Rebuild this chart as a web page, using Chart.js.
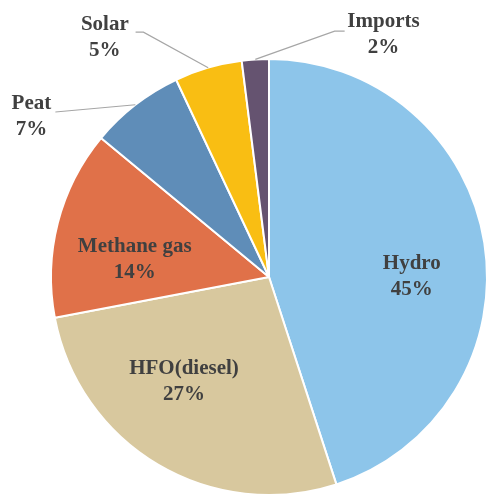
<!DOCTYPE html>
<html>
<head>
<meta charset="utf-8">
<script src="https://cdn.jsdelivr.net/npm/chart.js@4/dist/chart.umd.min.js"></script>
<style>
  html, body { margin: 0; padding: 0; background: #ffffff; overflow: hidden; width: 487px; height: 494px; }
  #wrap { position: absolute; left: 0; top: 0; width: 540px; height: 540px; }
</style>
</head>
<body>
<div id="wrap"><canvas id="c" width="540" height="540"></canvas></div>
<script>
const categories = ["Hydro", "HFO(diesel)", "Methane gas", "Peat", "Solar", "Imports"];
const shares = [45, 27, 14, 7, 5, 2];
const percentLabels = ["45%", "27%", "14%", "7%", "5%", "2%"];
const colors = ["#8DC5EA", "#D8C89E", "#E07149", "#5F8DB8", "#F9BE13", "#655370"];

// label anchor positions relative to pie centre, in units of the radius
const labelLayout = [
  { dx: 0.655, dy: 0.0 },
  { dx: -0.39, dy: 0.48 },
  { dx: -0.616, dy: -0.082 },
  { dx: -1.09, dy: -0.735, leader: [[-0.98, -0.757]] },
  { dx: -0.753, dy: -1.10, leader: [[-0.576, -1.123], [-0.612, -1.123]] },
  { dx: 0.525, dy: -1.114, leader: [[0.301, -1.128], [0.347, -1.128]] }
];

const labelPlugin = {
  id: 'sliceLabels',
  afterDatasetsDraw(chart) {
    const ctx = chart.ctx;
    const meta = chart.getDatasetMeta(0);
    ctx.save();
    meta.data.forEach((arc, i) => {
      const p = arc.getProps(['x', 'y', 'startAngle', 'endAngle', 'outerRadius'], true);
      const R = p.outerRadius;
      const lay = labelLayout[i];
      if (lay.leader) {
        const mid = (p.startAngle + p.endAngle) / 2;
        ctx.beginPath();
        ctx.strokeStyle = '#A6A6A6';
        ctx.lineWidth = 1.2;
        ctx.moveTo(p.x + Math.cos(mid) * R, p.y + Math.sin(mid) * R);
        lay.leader.forEach(pt => ctx.lineTo(p.x + pt[0] * R, p.y + pt[1] * R));
        ctx.stroke();
      }
      const cx = p.x + lay.dx * R;
      const cy = p.y + lay.dy * R;
      ctx.fillStyle = '#404040';
      ctx.font = 'bold 21px "Liberation Serif", "Times New Roman", serif';
      ctx.textAlign = 'center';
      ctx.textBaseline = 'middle';
      ctx.fillText(categories[i], cx, cy - 13);
      ctx.fillText(percentLabels[i], cx, cy + 13);
    });
    ctx.restore();
  }
};

new Chart(document.getElementById('c'), {
  type: 'pie',
  data: {
    labels: categories,
    datasets: [{
      data: shares,
      backgroundColor: colors,
      borderColor: '#ffffff',
      borderWidth: 2
    }]
  },
  options: {
    responsive: false,
    animation: false,
    layout: { padding: { left: 50, right: 52, top: 58, bottom: 44 } },
    plugins: { legend: { display: false }, tooltip: { enabled: false } }
  },
  plugins: [labelPlugin]
});
</script>
</body>
</html>
